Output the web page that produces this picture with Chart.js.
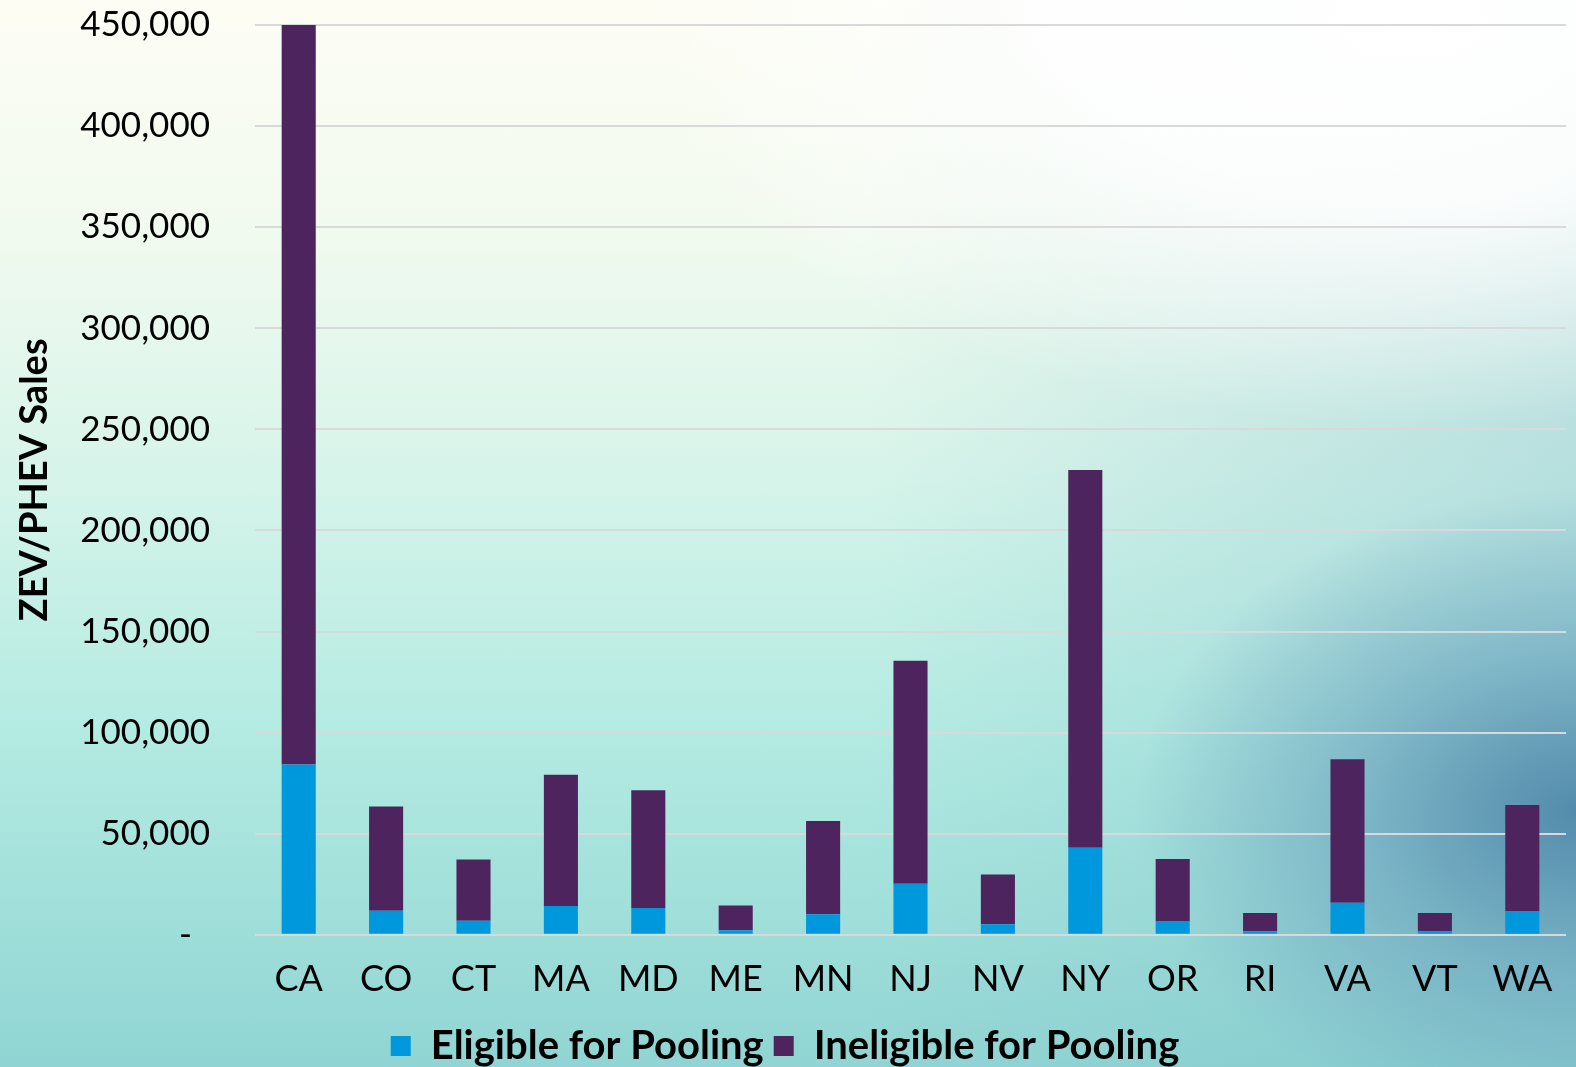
<!DOCTYPE html>
<html>
<head>
<meta charset="utf-8">
<script src="https://cdn.jsdelivr.net/npm/chart.js@4.4.1/dist/chart.umd.min.js"></script>
<style>
  html, body { margin: 0; padding: 0; overflow: hidden; }
  body {
    width: 1576px;
    height: 1067px;
    background:
      radial-gradient(ellipse 28% 30% at 100% 76%, rgba(80,135,170,0.95) 0%, rgba(100,155,185,0.55) 50%, rgba(150,205,215,0) 100%),
      radial-gradient(ellipse 50% 38% at 90% 2%, rgba(255,255,255,1) 0%, rgba(255,255,255,0.9) 45%, rgba(255,255,255,0) 100%),
      linear-gradient(90deg, rgba(255,255,255,0) 55%, rgba(120,185,200,0.35) 100%),
      linear-gradient(180deg, #fdfdf4 0%, #f1faef 22%, #d6f4ea 45%, #b4ebe2 68%, #90d5d3 100%);
  }
  #wrap { position: relative; width: 1576px; height: 1076px; }
</style>
</head>
<body>
<div id="wrap"><canvas id="salesChart"></canvas></div>
<script>
// data
const states = ["CA", "CO", "CT", "MA", "MD", "ME", "MN", "NJ", "NV", "NY", "OR", "RI", "VA", "VT", "WA"];
const eligible = [84200, 11900, 6900, 14300, 13200, 2300, 10200, 25200, 5200, 43000, 6800, 1700, 15800, 1700, 11800];
const ineligible = [365800, 51600, 30400, 64900, 58300, 12200, 46100, 110300, 24600, 186900, 30700, 9100, 71000, 9100, 52400];
const yTicks = [0, 50000, 100000, 150000, 200000, 250000, 300000, 350000, 400000, 450000];

const fontName = "Lato, 'Open Sans', sans-serif";

new Chart(document.getElementById("salesChart"), {
  type: "bar",
  data: {
    labels: states,
    datasets: [
      {
        label: "Eligible for Pooling",
        data: eligible,
        backgroundColor: "#0098dd",
        barPercentage: 0.39,
        categoryPercentage: 1,
      },
      {
        label: "Ineligible for Pooling",
        data: ineligible,
        backgroundColor: "#4e245e",
        barPercentage: 0.39,
        categoryPercentage: 1,
      },
    ],
  },
  options: {
    responsive: true,
    maintainAspectRatio: false,
    animation: false,
    layout: { padding: { left: 4, right: 10, top: 0, bottom: 0 } },
    plugins: {
      tooltip: { enabled: false },
      legend: {
        position: "bottom",
        labels: {
          color: "#000",
          font: { family: fontName, size: 40, weight: "bold" },
          boxWidth: 20,
          boxHeight: 20,
          padding: 10,
        },
      },
    },
    scales: {
      x: {
        stacked: true,
        grid: { display: false },
        border: { display: false },
        ticks: {
          color: "#000",
          font: { family: fontName, size: 36 },
          padding: 15,
        },
      },
      y: {
        stacked: true,
        min: 0,
        max: 450000,
        afterBuildTicks: (axis) => {
          axis.ticks = yTicks.map((v) => ({ value: v }));
        },
        afterFit: (axis) => {
          axis.width = 251; // plot starts at x=255
        },
        grid: { color: "#d9d9d9", lineWidth: 2, drawTicks: true, tickLength: 41, tickColor: "rgba(0,0,0,0)" },
        border: { display: false },
        ticks: {
          color: "#000",
          font: { family: fontName, size: 35 },
          padding: 4,
          callback: (value) => (value === 0 ? "-  " : value.toLocaleString("en-US")),
        },
        title: {
          display: true,
          text: "ZEV/PHEV Sales",
          color: "#000",
          font: { family: fontName, size: 38, weight: "bold" },
          padding: { top: 8, bottom: 20 },
        },
      },
    },
  },
});
</script>
</body>
</html>
